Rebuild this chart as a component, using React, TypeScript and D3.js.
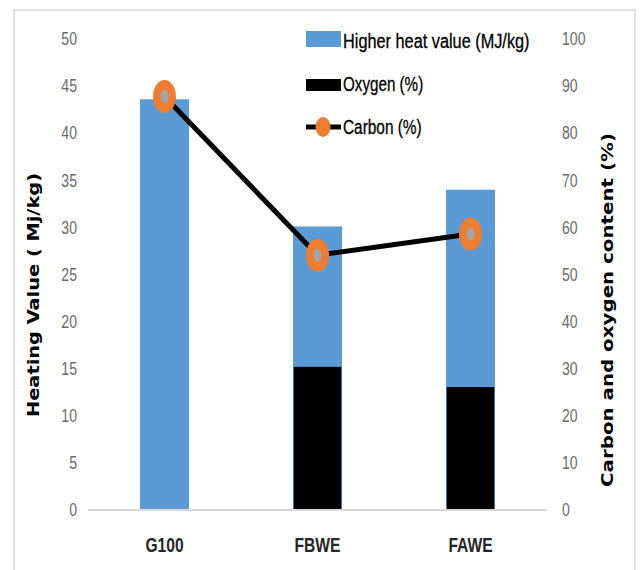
import React from "react";
import * as d3 from "d3";

const categories = ["G100", "FBWE", "FAWE"];
const higherHeatValue = [43.6, 30.1, 34.0];
const oxygenPct = [0, 30.4, 26.1];
const carbonPct = [87.8, 54.1, 58.6];
const leftTicks = [0, 5, 10, 15, 20, 25, 30, 35, 40, 45, 50];
const rightTicks = [0, 10, 20, 30, 40, 50, 60, 70, 80, 90, 100];
const legendLabels = ["Higher heat value (MJ/kg)", "Oxygen (%)", "Carbon (%)"];

const legendScaleX = [0.815, 0.76, 0.77];

const W = 641;
const H = 570;
const plot = { left: 88, right: 547, top: 39, bottom: 510 };

const narrow = "'Liberation Sans', Arial, sans-serif";
const wide = "'DejaVu Sans', Verdana, sans-serif";

export default function App() {
  const x = d3
    .scaleBand<string>()
    .domain(categories)
    .range([plot.left, plot.right])
    .paddingInner(0.68)
    .paddingOuter(0.34);
  const yL = d3.scaleLinear().domain([0, 50]).range([plot.bottom, plot.top]);
  const yR = d3.scaleLinear().domain([0, 100]).range([plot.bottom, plot.top]);
  const bw = x.bandwidth();
  const cx = (c: string) => (x(c) as number) + bw / 2;

  const line = d3
    .line<number>()
    .x((_, i) => cx(categories[i]))
    .y((d) => yR(d));

  const tickColor = "#6b6b6b";

  return (
    <svg
      width={W}
      height={H}
      style={{ position: "absolute", left: 0, top: 0, background: "#fff" }}
    >
      <rect x={14} y={10} width={621} height={575} fill="#fff" stroke="#D9D9D9" strokeWidth={1.5} />

      {/* left ticks */}
      {leftTicks.map((t) => (
        <g key={"l" + t} transform={`translate(77,${yL(t)}) scale(0.74,1)`}>
          <text
            textAnchor="end"
            dominantBaseline="central"
            fontFamily={narrow}
            fontSize={19}
            fill={tickColor}
          >
            {t}
          </text>
        </g>
      ))}
      {/* right ticks */}
      {rightTicks.map((t) => (
        <g key={"r" + t} transform={`translate(562,${yR(t)}) scale(0.74,1)`}>
          <text
            textAnchor="start"
            dominantBaseline="central"
            fontFamily={narrow}
            fontSize={19}
            fill={tickColor}
          >
            {t}
          </text>
        </g>
      ))}

      {/* bars */}
      {categories.map((c, i) => (
        <rect
          key={"h" + c}
          x={x(c)}
          y={yL(higherHeatValue[i])}
          width={bw}
          height={plot.bottom - yL(higherHeatValue[i])}
          fill="#5B9BD5"
        />
      ))}
      {categories.map((c, i) =>
        oxygenPct[i] > 0 ? (
          <rect
            key={"o" + c}
            x={(x(c) as number) + 0.7}
            y={yR(oxygenPct[i])}
            width={bw - 1.4}
            height={plot.bottom - yR(oxygenPct[i])}
            fill="#000"
          />
        ) : null
      )}

      {/* baseline */}
      <line x1={plot.left} x2={plot.right} y1={plot.bottom} y2={plot.bottom} stroke="#D9D9D9" strokeWidth={2} />

      {/* carbon line */}
      <path d={line(carbonPct) || ""} fill="none" stroke="#000" strokeWidth={5} />
      {categories.map((c, i) => (
        <g key={"m" + c}>
          <ellipse cx={cx(c)} cy={yR(carbonPct[i])} rx={11.5} ry={16.5} fill="#ED7D31" />
          <ellipse cx={cx(c)} cy={yR(carbonPct[i])} rx={4} ry={6.5} fill="#A5A5A5" />
        </g>
      ))}

      {/* category labels */}
      {categories.map((c) => (
        <g key={"c" + c} transform={`translate(${cx(c)},545) scale(0.78,1)`}>
          <text
            textAnchor="middle"
            dominantBaseline="central"
            fontFamily={narrow}
            fontWeight="bold"
            fontSize={20}
            fill="#262626"
          >
            {c}
          </text>
        </g>
      ))}

      {/* axis titles */}
      <text
        transform={`translate(34,295) rotate(-90)`}
        textAnchor="middle"
        dominantBaseline="central"
        fontFamily={wide}
        fontWeight="bold"
        fontSize={15}
        fill="#000"
        textLength={244}
        lengthAdjust="spacingAndGlyphs"
      >
        Heating Value ( Mj/kg)
      </text>
      <text
        transform={`translate(608,310) rotate(-90)`}
        textAnchor="middle"
        dominantBaseline="central"
        fontFamily={wide}
        fontWeight="bold"
        fontSize={15}
        fill="#000"
        textLength={354}
        lengthAdjust="spacingAndGlyphs"
      >
        Carbon and oxygen content (%)
      </text>

      {/* legend */}
      <rect x={306} y={31} width={35} height={16} fill="#5B9BD5" />
      <rect x={306} y={79} width={35} height={12} fill="#000" />
      <line x1={306} x2={341} y1={127} y2={127} stroke="#000" strokeWidth={5} />
      <ellipse cx={323} cy={127} rx={7.5} ry={10} fill="#ED7D31" />
      {legendLabels.map((l, i) => (
        <g key={l} transform={`translate(343,${41 + i * 43}) scale(${legendScaleX[i]},1)`}>
          <text
            dominantBaseline="central"
            fontFamily={narrow}
            fontSize={20}
            fill="#000"
            stroke="#000"
            strokeWidth={0.3}
          >
            {l}
          </text>
        </g>
      ))}
    </svg>
  );
}
